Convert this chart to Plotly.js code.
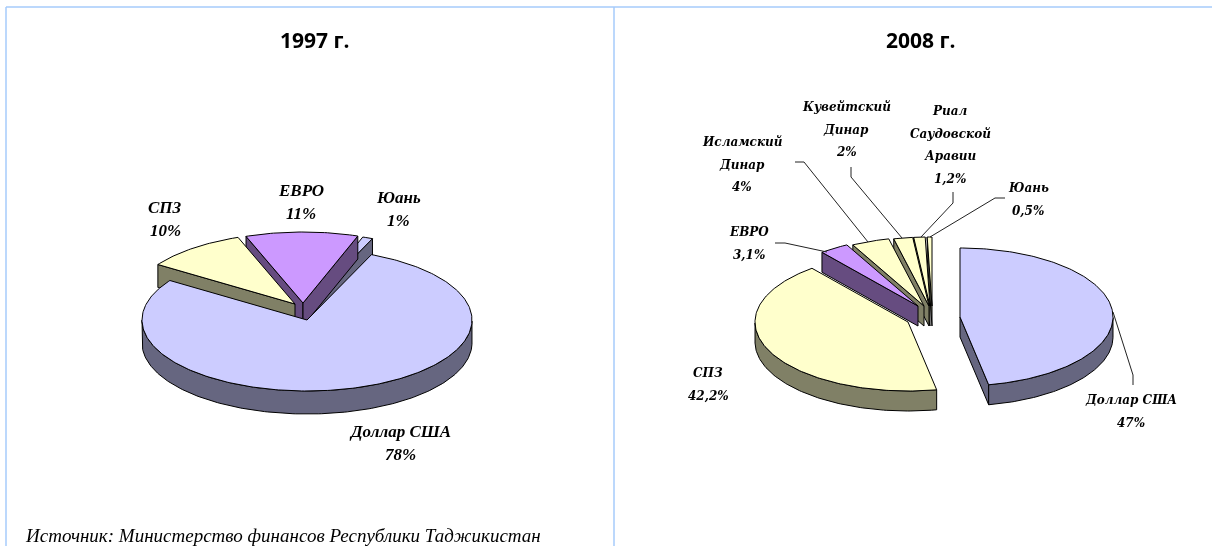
<!DOCTYPE html>
<html>
<head>
<meta charset="utf-8">
<script src="https://cdn.plot.ly/plotly-3.0.1.min.js"></script>
<style>html,body{margin:0;padding:0;background:#fff}#chart{width:1212px;height:546px;filter:blur(0.45px)}</style>
</head>
<body>
<div id="chart"></div>
<script>
// ---- data ----
const names1997 = ['Доллар США', 'СПЗ', 'ЕВРО', 'Юань'];
const values1997 = [78, 10, 11, 1];
const names2008 = ['Доллар США', 'СПЗ', 'ЕВРО', 'Исламский Динар', 'Кувейтский Динар', 'Риал Саудовской Аравии', 'Юань'];
const values2008 = [47, 42.2, 3.1, 4, 2, 1.2, 0.5];
const labelLines1997 = [['Доллар США'], ['СПЗ'], ['ЕВРО'], ['Юань']];
const labelLines2008 = [['Доллар США'], ['СПЗ'], ['ЕВРО'], ['Исламский', 'Динар'], ['Кувейтский', 'Динар'], ['Риал', 'Саудовской', 'Аравии'], ['Юань']];
const titles = ['1997 г.', '2008 г.'];
const sourceText = 'Источник: Министерство финансов Республики Таджикистан';

// ---- styles and placement (page pixels) ----
const TOP = {usd: '#CCCCFF', sdr: '#FFFFCC', eur: '#CC99FF'};
const WALL = {usd: '#666680', sdr: '#808066', eur: '#664C80'};
const colors1997 = ['usd', 'sdr', 'eur', 'usd'];
const colors2008 = ['usd', 'sdr', 'eur', 'sdr', 'sdr', 'sdr', 'sdr'];
const pie1997 = {start: 23, rx: 165, ry: 71, depth: 23,
  centers: [[307, 320], [295, 304], [303, 303], [308, 304]],
  order: [3, 2, 1, 0],
  labels: [[400, 431], [165, 207], [301, 190], [398, 197]], lineH: 23.5, size: 17, font: 'Liberation Serif'};
const pie2008 = {start: 0, rx: 153, ry: 69, depth: 20,
  centers: [[960, 317], [908, 322], [918, 306], [924, 306], [929, 306], [930, 306], [932, 306]],
  order: [6, 5, 4, 3, 2, 1, 0],
  labels: [[1131, 400], [708, 373], [749, 232], [742, 142], [846, 107], [950, 111], [1028, 188]], lineH: 22.5, size: 12, font: 'DejaVu Serif'};
const leaders = [
  [[1113, 312], [1133, 375], [1133, 385]],
  [[775, 243], [785, 243], [827, 252]],
  [[795, 162], [804, 162], [868, 242]],
  [[851, 167], [851, 177], [902, 238]],
  [[953, 192], [953, 203], [921, 237]],
  [[1005, 198], [995, 198], [930, 237]]
];
const SOURCE_FONT = 'Liberation Serif';
const TITLE_FONT = 'Open Sans';
const FRAME = '#A6CBFB';

// ---- drawing ----
const traces = [];
function poly(points, fill) {
  traces.push({type: 'scatter', mode: 'lines', x: points.map(p => p[0]), y: points.map(p => p[1]),
    fill: 'toself', fillcolor: fill, line: {color: '#000', width: 1},
    hoverinfo: 'skip', showlegend: false});
}
function pt(c, p, a) {
  const r = a * Math.PI / 180;
  return [c[0] + p.rx * Math.sin(r), c[1] - p.ry * Math.cos(r)];
}
const sinDeg = a => Math.sin(a * Math.PI / 180);
const cosDeg = a => Math.cos(a * Math.PI / 180);
function drawPie(values, colors, p) {
  const total = values.reduce((a, b) => a + b, 0);
  let acc = p.start;
  const spans = values.map(v => { const s = [acc, acc + v / total * 360]; acc = s[1]; return s; });
  p.order.forEach(i => {
    const c = p.centers[i], [a0, a1] = spans[i], arc = [], front = [];
    const n = Math.max(2, Math.ceil(a1 - a0));
    for (let k = 0; k <= n; k++) {
      const a = a0 + (a1 - a0) * k / n, q = pt(c, p, a);
      arc.push(q);
      if (cosDeg(a) < 0) front.push(q);
    }
    const down = q => [q[0], q[1] + p.depth];
    const top = TOP[colors[i]], wall = WALL[colors[i]];
    if (sinDeg(a0) < 0) poly([c, arc[0], down(arc[0]), down(c), c], wall);
    if (sinDeg(a1) > 0) poly([c, arc[n], down(arc[n]), down(c), c], wall);
    if (front.length > 1) poly(front.concat(front.slice().reverse().map(down)).concat([front[0]]), wall);
    poly([c].concat(arc).concat([c]), top);
  });
}
drawPie(values1997, colors1997, pie1997);
drawPie(values2008, colors2008, pie2008);
leaders.forEach(l => traces.push({type: 'scatter', mode: 'lines', x: l.map(q => q[0]), y: l.map(q => q[1]),
  line: {color: '#222', width: 1}, hoverinfo: 'skip', showlegend: false}));

const annotations = [];
function txt(x, y, text, size, family, extra) {
  annotations.push(Object.assign({x, y, text, xref: 'x', yref: 'y', showarrow: false, xanchor: 'center', yanchor: 'middle',
    font: {size, family, color: '#000'}}, extra || {}));
}
function fmt(v) { return String(v).replace('.', ',') + '%'; }
function drawLabels(lines, values, p) {
  lines.forEach((ls, i) => {
    const all = ls.concat([fmt(values[i])]);
    all.forEach((t, k) => txt(p.labels[i][0], p.labels[i][1] + k * p.lineH, '<b><i>' + t + '</i></b>', p.size, p.font));
  });
}
drawLabels(labelLines1997, values1997, pie1997);
drawLabels(labelLines2008, values2008, pie2008);
txt(315, 40, '<b>' + titles[0] + '</b>', 21, TITLE_FONT);
txt(921, 40, '<b>' + titles[1] + '</b>', 21, TITLE_FONT);
txt(23, 535, '<i>' + sourceText + '</i>', 19, SOURCE_FONT, {xanchor: 'left'});

const frameLine = (x0, y0, x1, y1) => ({type: 'line', x0, y0, x1, y1, xref: 'x', yref: 'y', line: {color: FRAME, width: 1.5}});
const layout = {
  width: 1212, height: 546, margin: {l: 0, r: 0, t: 0, b: 0}, paper_bgcolor: '#fff', plot_bgcolor: '#fff',
  showlegend: false, hovermode: false,
  xaxis: {range: [0, 1212], visible: false, fixedrange: true},
  yaxis: {range: [546, 0], visible: false, fixedrange: true},
  shapes: [frameLine(6, 7, 1212, 7), frameLine(6, 7, 6, 546), frameLine(614, 7, 614, 546)],
  annotations
};
Plotly.newPlot('chart', traces, layout, {displayModeBar: false, staticPlot: true});
</script>
</body>
</html>
